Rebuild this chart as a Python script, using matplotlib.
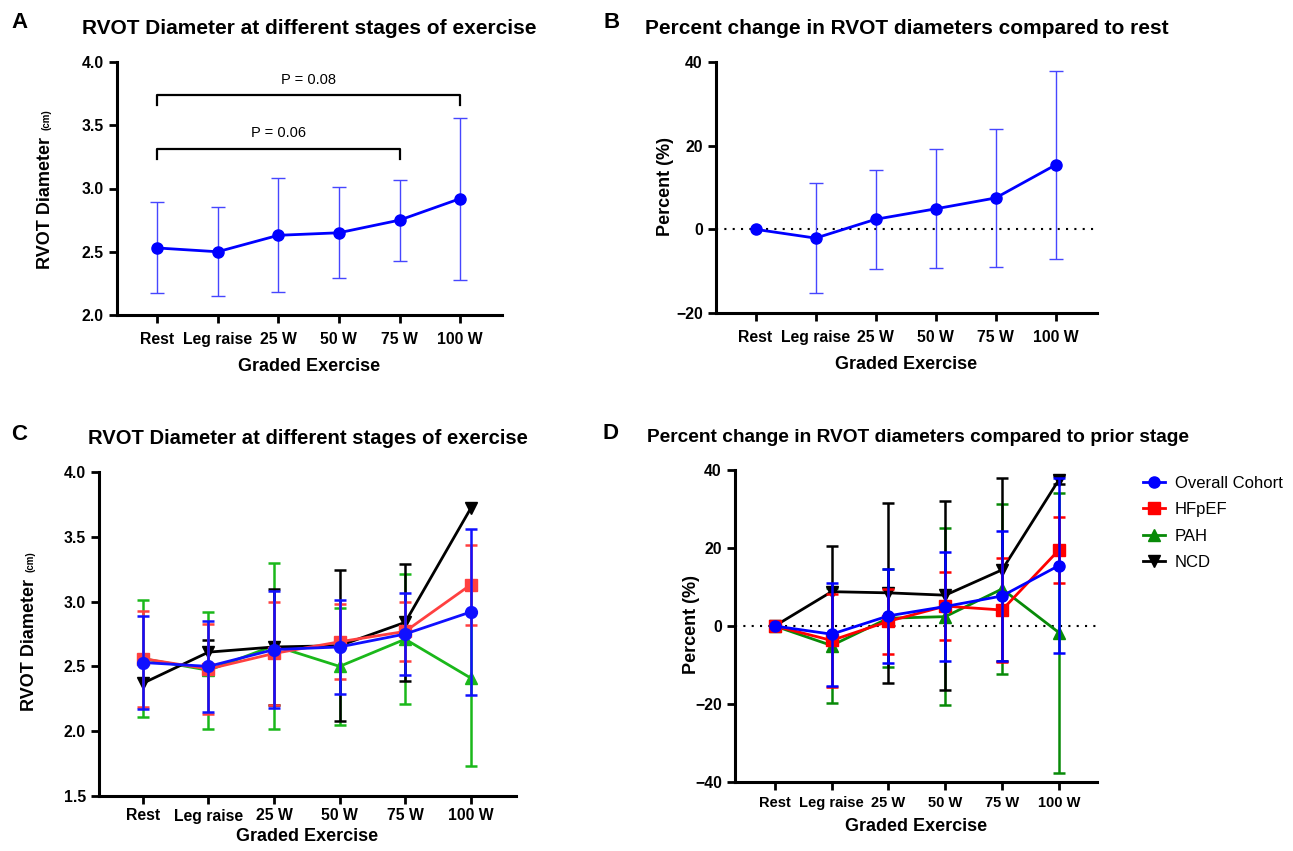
import matplotlib.pyplot as plt

plt.rcParams['font.family'] = ['Liberation Sans', 'DejaVu Sans']

stages = ['Rest', 'Leg raise', '25 W', '50 W', '75 W', '100 W']

# overall cohort (panels A, B and blue series in C, D)
overall_diam = [2.53, 2.50, 2.63, 2.65, 2.75, 2.92]
overall_diam_sd = [0.36, 0.35, 0.45, 0.36, 0.32, 0.64]
overall_rest_pct = [0, -2.1, 2.4, 4.9, 7.5, 15.4]
overall_rest_pct_sd = [0, 13.2, 11.9, 14.2, 16.6, 22.5]

# panel C: diameters per group
hfpef_diam = [2.56, 2.48, 2.60, 2.69, 2.77, 3.13]
hfpef_diam_sd = [0.37, 0.35, 0.40, 0.29, 0.23, 0.31]
pah_diam = [2.56, 2.47, 2.66, 2.50, 2.71, 2.41]
pah_diam_sd = [0.45, 0.45, 0.64, 0.45, 0.50, 0.68]
ncd_diam = [2.37, 2.61, 2.65, 2.66, 2.84, 3.72]
ncd_diam_sd = [0, 0.09, 0.45, 0.58, 0.45, 0]

# panel D: percent change vs prior stage
overall_pct = [0, -2.1, 2.6, 5.0, 7.7, 15.5]
overall_pct_sd = [0, 13.2, 12.0, 14.1, 16.6, 22.5]
hfpef_pct = [0, -3.7, 1.2, 5.1, 4.1, 19.5]
hfpef_pct_sd = [0, 12.0, 8.4, 8.8, 13.4, 8.4]
pah_pct = [0, -5.0, 2.0, 2.4, 9.5, -1.7]
pah_pct_sd = [0, 14.7, 12.5, 22.7, 21.8, 35.9]
ncd_pct = [0, 8.8, 8.5, 7.9, 14.4, 37.5]
ncd_pct_sd = [0, 11.8, 23.0, 24.2, 23.5, 1.0]

W, H = 1293, 851
fig = plt.figure(figsize=(W / 100, H / 100), dpi=100)


def px_axes(left, top, right, bottom):
    return fig.add_axes([left / W, 1 - bottom / H, (right - left) / W, (bottom - top) / H])


def px_text(x, y, s, **kw):
    fig.text(x / W, 1 - y / H, s, **kw)


def style(ax, ylim, yticks, xl, tsize=11.3, xsize=None, xpad=6):
    for s in ['top', 'right']:
        ax.spines[s].set_visible(False)
    for s in ['left', 'bottom']:
        ax.spines[s].set_linewidth(2.2)
    ax.set_xlim(*xl)
    ax.set_ylim(*ylim)
    ax.set_yticks(yticks)
    ax.set_xticks(range(len(stages)))
    ax.set_xticklabels(stages)
    ax.tick_params(width=2, length=6, labelsize=tsize)
    ax.tick_params(axis='x', pad=xpad, labelsize=xsize or tsize)
    for lab in ax.get_xticklabels() + ax.get_yticklabels():
        lab.set_fontweight('bold')


def series(ax, x, y, sd, color, marker, ms=8, ebw=1.0, lw=2, z=3, cap=5, label=None, ecolor=None):
    idx = [i for i in range(len(x)) if sd[i] > 0]
    ax.errorbar([x[i] for i in idx], [y[i] for i in idx], yerr=[sd[i] for i in idx], fmt='none',
                ecolor=ecolor or color, elinewidth=ebw, capsize=cap, capthick=ebw, zorder=z)
    ax.plot(x, y, color=color, marker=marker, markersize=ms, linewidth=lw, zorder=z + 0.5,
            label=label)


x = list(range(len(stages)))

# ---- A ----
axA = px_axes(117, 62, 502, 315)
style(axA, (2.0, 4.0), [2.0, 2.5, 3.0, 3.5, 4.0], (-0.66, 5.69))
axA.yaxis.set_major_formatter(plt.FormatStrFormatter('%.1f'))
series(axA, x, overall_diam, overall_diam_sd, '#0000ff', 'o', ecolor='#4646ff')
axA.plot([0, 0, 4, 4], [3.23, 3.31, 3.31, 3.23], color='black', lw=1.6)
axA.plot([0, 0, 5, 5], [3.66, 3.74, 3.74, 3.66], color='black', lw=1.6)
axA.text(2, 3.44, 'P = 0.06', ha='center', va='center', fontsize=10.5)
axA.text(2.5, 3.86, 'P = 0.08', ha='center', va='center', fontsize=10.5)
axA.set_xlabel('Graded Exercise', fontsize=13, fontweight='bold', labelpad=8)
px_text(46, 203, 'RVOT Diameter', rotation=90, ha='center', va='center', fontsize=13, fontweight='bold')
px_text(47, 120, '(cm)', rotation=90, ha='center', va='center', fontsize=7, fontweight='bold')
px_text(20, 22, 'A', ha='center', va='center', fontsize=16, fontweight='bold')
px_text(309, 28, 'RVOT Diameter at different stages of exercise', ha='center', va='center',
        fontsize=15, fontweight='bold')

# ---- B ----
axB = px_axes(716, 62, 1097, 313)
style(axB, (-20, 40), [-20, 0, 20, 40], (-0.66, 5.69))
axB.axhline(0, color='black', lw=1.5, ls=(0, (1, 3)), zorder=1)
series(axB, x, overall_rest_pct, overall_rest_pct_sd, '#0000ff', 'o', ecolor='#4646ff')
axB.set_xlabel('Graded Exercise', fontsize=13, fontweight='bold', labelpad=8)
px_text(666, 187, 'Percent (%)', rotation=90, ha='center', va='center', fontsize=13, fontweight='bold')
px_text(612, 22, 'B', ha='center', va='center', fontsize=16, fontweight='bold')
px_text(907, 28, 'Percent change in RVOT diameters compared to rest', ha='center', va='center',
        fontsize=15, fontweight='bold')

# ---- C ----
axC = px_axes(99, 472, 516, 796)
style(axC, (1.5, 4.0), [1.5, 2.0, 2.5, 3.0, 3.5, 4.0], (-0.67, 5.69), xpad=3)
axC.yaxis.set_major_formatter(plt.FormatStrFormatter('%.1f'))
series(axC, x, pah_diam, pah_diam_sd, '#1ab81a', '^', ms=8.5, ebw=1.8, z=3, cap=4.5)
series(axC, x, ncd_diam, ncd_diam_sd, 'black', 'v', ms=8.5, ebw=1.8, z=4, cap=4.5)
series(axC, x, hfpef_diam, hfpef_diam_sd, '#ff4040', 's', ms=8.5, ebw=1.8, z=5, cap=4.5)
series(axC, x, overall_diam, overall_diam_sd, '#1010ff', 'o', ms=8.5, ebw=1.8, z=6, cap=4.5)
axC.set_xlabel('Graded Exercise', fontsize=13, fontweight='bold', labelpad=3)
px_text(30, 645, 'RVOT Diameter', rotation=90, ha='center', va='center', fontsize=13, fontweight='bold')
px_text(31, 562, '(cm)', rotation=90, ha='center', va='center', fontsize=7, fontweight='bold')
px_text(19, 434, 'C', ha='center', va='center', fontsize=16, fontweight='bold')
px_text(308, 438, 'RVOT Diameter at different stages of exercise', ha='center', va='center',
        fontsize=14.6, fontweight='bold')

# ---- D ----
axD = px_axes(735, 470, 1097, 782)
style(axD, (-40, 40), [-40, -20, 0, 20, 40], (-0.70, 5.67), xsize=10.5, xpad=4)
axD.axhline(0, color='black', lw=1.5, ls=(0, (1, 3)), zorder=1)
series(axD, x, pah_pct, pah_pct_sd, '#088a08', '^', ebw=1.8, z=3, cap=4, label='PAH')
series(axD, x, ncd_pct, ncd_pct_sd, 'black', 'v', ebw=1.8, z=4, cap=4, label='NCD')
series(axD, x, hfpef_pct, hfpef_pct_sd, '#ff0000', 's', ebw=1.8, z=5, cap=4, label='HFpEF')
series(axD, x, overall_pct, overall_pct_sd, '#0000ff', 'o', ebw=1.8, z=6, cap=4, label='Overall Cohort')
axD.set_xlabel('Graded Exercise', fontsize=13, fontweight='bold', labelpad=6)
px_text(691, 625, 'Percent (%)', rotation=90, ha='center', va='center', fontsize=13, fontweight='bold')
handles, labels = axD.get_legend_handles_labels()
order = [3, 2, 0, 1]
fig.legend([handles[i] for i in order], [labels[i] for i in order], loc='upper left',
           bbox_to_anchor=(1143 / W, 1 - 476 / H), frameon=False, fontsize=12, handlelength=1.3,
           labelspacing=0.68, handletextpad=0.6, borderpad=0, borderaxespad=0)
px_text(611, 433, 'D', ha='center', va='center', fontsize=16, fontweight='bold')
px_text(918, 437, 'Percent change in RVOT diameters compared to prior stage', ha='center',
        va='center', fontsize=13.8, fontweight='bold')

fig.savefig('out.png', dpi=100, facecolor='white')
